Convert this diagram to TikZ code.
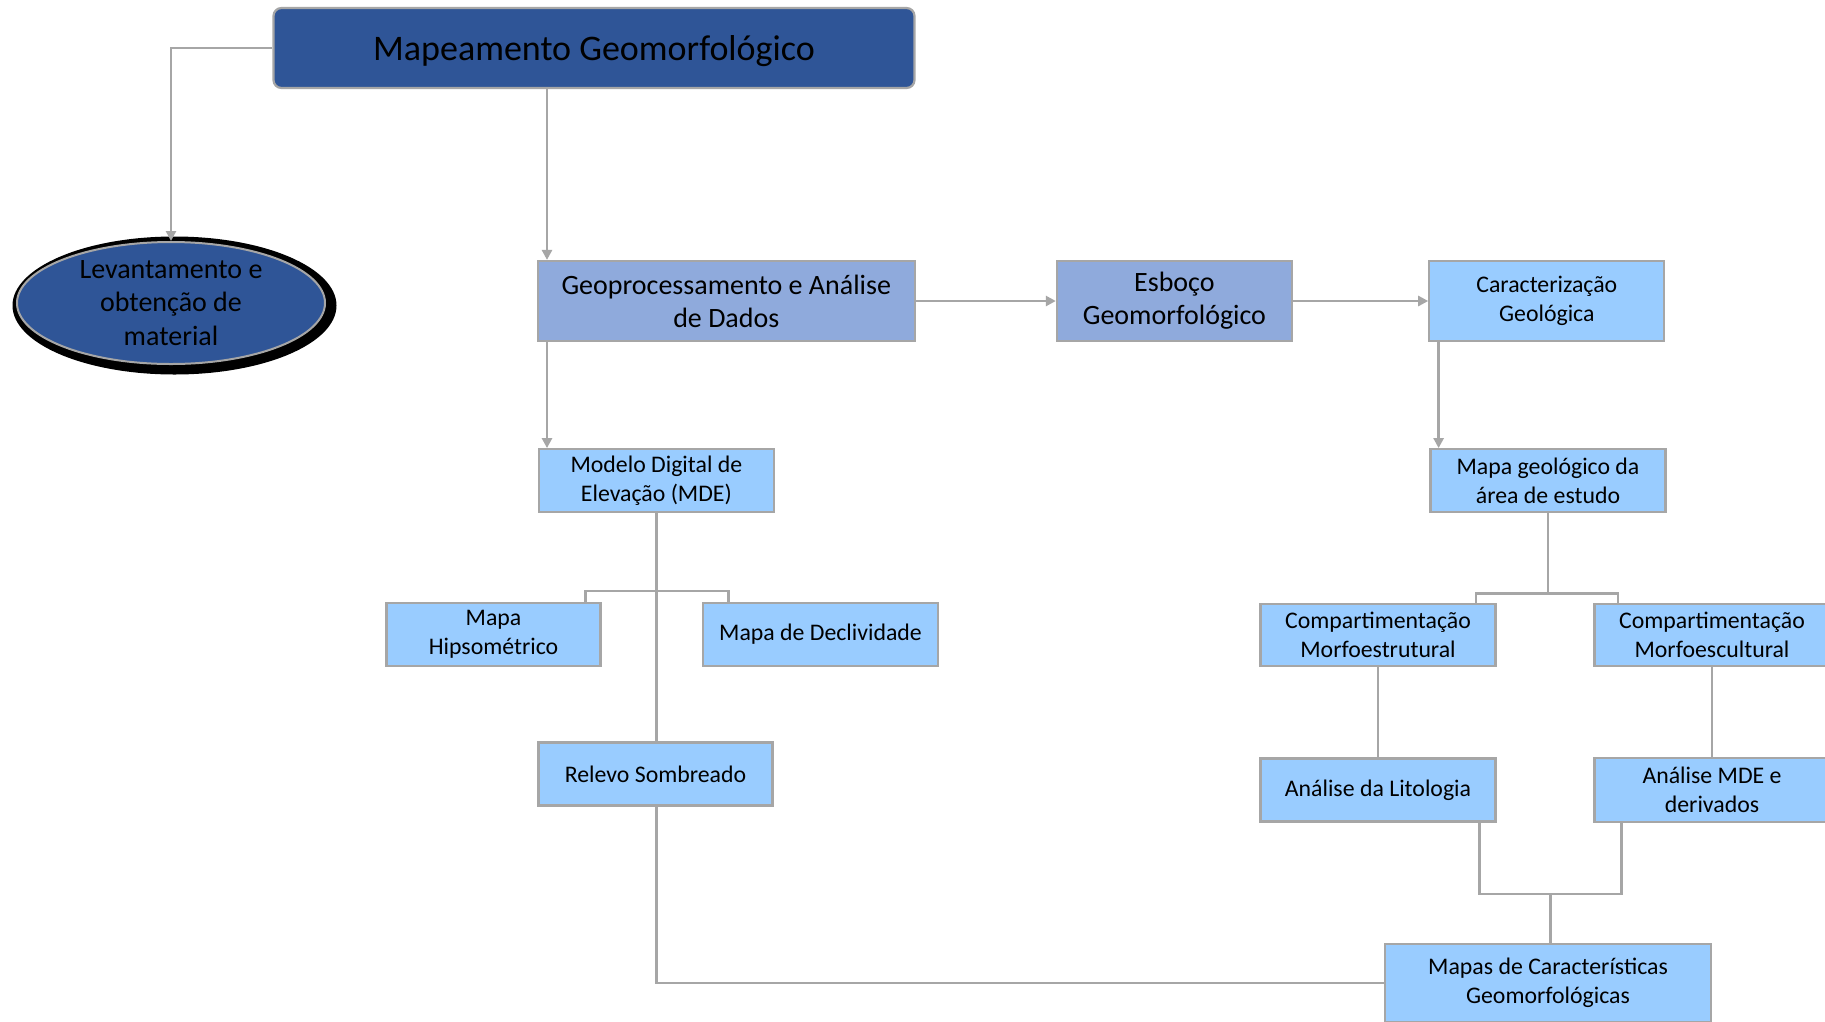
\documentclass[tikz,border=0pt]{standalone}
\usepackage{fontspec}
\setmainfont{Carlito}
\usetikzlibrary{arrows.meta,shapes.geometric,calc}
\definecolor{dblue}{RGB}{47,85,151}
\definecolor{mblue}{RGB}{143,170,220}
\definecolor{lblue}{RGB}{153,204,255}
\definecolor{lgray}{RGB}{166,166,166}
\tikzset{
  box/.style={draw=lgray, line width=2.2pt, inner sep=0pt, align=center, text=black},
  darkbox/.style={box, fill=dblue, rounded corners=8pt},
  midbox/.style={box, fill=mblue, font=\fontsize{28}{33}\selectfont},
  litebox/.style={box, fill=lblue, font=\fontsize{23.8}{28.8}\selectfont},
  conn/.style={draw=lgray, line width=2.6pt},
  arr/.style={conn, -{Triangle[width=10pt,length=10pt]}},
}
\begin{document}
\begin{tikzpicture}[x=1pt,y=-1pt]
\clip (0,0) rectangle (1825,1021);
\fill[white] (0,0) rectangle (1825,1021);
% nodes
\node[darkbox, minimum width=641, minimum height=80, text depth=0pt, font=\fontsize{36}{42}\selectfont] (main) at (594,48) {Mapeamento Geomorfológico};
\node[ellipse, fill=black, minimum width=324, minimum height=138, inner sep=0pt] (levsh) at (174.5,305.5) {};
\node[ellipse, draw=lgray, line width=2pt, fill=dblue, minimum width=308, minimum height=122, inner sep=0pt, align=center, font=\fontsize{28}{33.8}\selectfont] (lev) at (171,303) {Levantamento e\\obtenção de\\material};
\node[midbox, minimum width=377, minimum height=80] (geo) at (726.3,301) {Geoprocessamento e Análise\\de Dados};
\node[midbox, minimum width=235, minimum height=80] (esb) at (1174.4,301) {Esboço\\Geomorfológico};
\node[litebox, minimum width=235, minimum height=80] (car) at (1546.8,301) {Caracterização\\Geológica};
\node[litebox, minimum width=235, minimum height=63] (mde) at (656.4,480.7) {Modelo Digital de\\Elevação (MDE)};
\node[litebox, minimum width=235, minimum height=63] (mgeo) at (1548,480.7) {Mapa geológico da\\área de estudo};
\node[litebox, minimum width=214, minimum height=63] (hip) at (493.5,634.3) {Mapa\\Hipsométrico};
\node[litebox, minimum width=235, minimum height=63] (dec) at (820.5,634.3) {Mapa de Declividade};
\node[litebox, minimum width=234, minimum height=63] (rel) at (655.5,774) {Relevo Sombreado};
\node[litebox, minimum width=235, minimum height=62] (mest) at (1378,635) {Compartimentação\\Morfoestrutural};
\node[litebox, minimum width=235, minimum height=62] (mesc) at (1712,635) {Compartimentação\\Morfoescultural};
\node[litebox, minimum width=235, minimum height=63] (lit) at (1378,790) {Análise da Litologia};
\node[litebox, minimum width=235, minimum height=64] (mdeder) at (1712,790) {Análise MDE e\\derivados};
\node[litebox, minimum width=326, minimum height=78] (mapas) at (1548,983) {Mapas de Características\\Geomorfológicas};
% helper coordinates
\coordinate (gx) at (547,0);
\coordinate (cx) at (1438.6,0);
\coordinate (hx) at (585.4,0);
\coordinate (dx) at (728.6,0);
\coordinate (b1) at (656.4,591);
\coordinate (b2) at (1548,593.6);
\coordinate (ex) at (1475.9,0);
\coordinate (sx) at (1617.9,0);
\coordinate (b3) at (1550.3,893.9);
\coordinate (lx) at (1479.3,0);
\coordinate (rx) at (1621.3,0);
\coordinate (rc) at (656.4,0);
% connectors
\draw[arr] (main.west) -| (lev.north);
\draw[arr] (main.south -| gx) -- (geo.north -| gx);
\draw[arr] (geo.east) -- (esb.west);
\draw[arr] (esb.east) -- (car.west);
\draw[arr] (geo.south -| gx) -- (mde.north -| gx);
\draw[arr] (car.south -| cx) -- (mgeo.north -| cx);
\draw[conn] (mde.south -| rc) -- (rel.north -| rc);
\draw[conn] (hip.north -| hx) |- (b1) -| (dec.north -| dx);
\draw[conn] (mgeo.south) -- (b2);
\draw[conn] (mest.north -| ex) |- (b2) -| (mesc.north -| sx);
\draw[conn] (mest.south) -- (lit.north);
\draw[conn] (mesc.south) -- (mdeder.north);
\draw[conn] (lit.south -| lx) |- (b3) -| (mdeder.south -| rx);
\draw[conn] (b3) -- (mapas.north -| b3);
\draw[conn] (rel.south -| rc) |- (mapas.west);
\end{tikzpicture}
\end{document}
